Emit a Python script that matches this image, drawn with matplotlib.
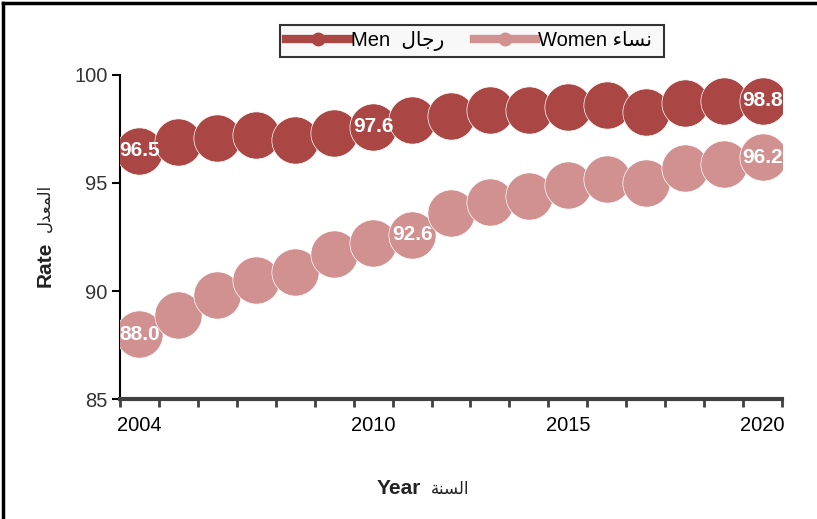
import matplotlib
matplotlib.use("Agg")
import matplotlib.pyplot as plt
from matplotlib.lines import Line2D

years = list(range(2004, 2021))
men = [96.5, 96.9, 97.1, 97.2, 97.0, 97.3, 97.6, 97.9, 98.1, 98.4,
       98.4, 98.5, 98.6, 98.3, 98.7, 98.8, 98.8]
women = [88.0, 88.9, 89.8, 90.5, 90.9, 91.7, 92.2, 92.6, 93.6, 94.1,
         94.4, 94.9, 95.2, 95.0, 95.7, 95.9, 96.2]
men_labels = [0, 6, 16]
women_labels = [0, 7, 16]
shown_years = [2004, 2010, 2015, 2020]
y_ticks = [85, 90, 95, 100]

# Arabic words written in visual order with presentation forms
ar_men = "\uFEDD\uFE8E\uFE9F\uFEAD"
ar_women = "\uFE80\uFE8E\uFEB4\uFEE7"
ar_rate = "\uFEDD\uFEAA\uFECC\uFEE4\uFEDF\uFE8D"
ar_year = "\uFE94\uFEE8\uFEB4\uFEDF\uFE8D"

MEN_C = "#aa4744"
WOMEN_C = "#d29191"
FONTS = ["Liberation Sans", "DejaVu Sans"]

plt.rcParams["font.family"] = FONTS


def main():
    fig = plt.figure(figsize=(8.17, 5.19), dpi=100)
    ax = fig.add_axes([0.1469, 0.2312, 0.8103, 0.6243])

    x = list(range(len(years)))
    for vals, color, idxs in ((men, MEN_C, men_labels),
                              (women, WOMEN_C, women_labels)):
        ax.plot(x, vals, color=color, lw=5, marker="o", markersize=34,
                markerfacecolor=color, markeredgecolor="white",
                markeredgewidth=0.5, zorder=3)
        for i in idxs:
            ax.text(x[i], vals[i], f"{vals[i]:.1f}", color="white",
                    fontsize=15, fontweight="bold", ha="center",
                    va="center", zorder=4)

    ax.set_xlim(-0.5, len(years) - 0.5)
    ax.set_ylim(85, 100)
    ax.set_yticks(y_ticks)
    ax.set_yticklabels([str(v) for v in y_ticks], fontsize=14.5,
                       color="#333333")
    ax.set_xticks([years.index(y) for y in shown_years])
    ax.set_xticklabels([str(y) for y in shown_years], fontsize=14.5)
    ax.set_xticks([i - 0.5 for i in range(len(years) + 1)], minor=True)
    ax.tick_params(axis="x", which="major", length=0, pad=12)
    ax.tick_params(axis="x", which="minor", length=6, width=2,
                   color="#404040", direction="out")
    ax.tick_params(axis="y", length=6, width=1.5, color="black", pad=3)

    for s in ("top", "right"):
        ax.spines[s].set_visible(False)
    ax.spines["left"].set_linewidth(1.5)
    ax.spines["bottom"].set_linewidth(3)
    ax.spines["bottom"].set_color("#404040")

    # axis titles: bold English part, lighter Arabic part
    fig.text(45 / 817, 1 - 264 / 519, "Rate", rotation=90, fontsize=15,
             fontweight="bold", color="#222222", ha="center", va="center")
    fig.text(45 / 817, 1 - 208 / 519, ar_rate, rotation=90, fontsize=12,
             color="#222222", ha="center", va="center")
    fig.text(399 / 817, 1 - 488 / 519, "Year", fontsize=15,
             fontweight="bold", color="#222222", ha="center", va="center")
    fig.text(450 / 817, 1 - 489 / 519, ar_year, fontsize=12,
             color="#222222", ha="center", va="center")

    handles = [
        Line2D([], [], color=MEN_C, lw=6, marker="o", markersize=9),
        Line2D([], [], color=WOMEN_C, lw=6, marker="o", markersize=9),
    ]
    leg = fig.legend(handles, [f"Men  {ar_men}  ", f"Women {ar_women} "],
                     loc="center", bbox_to_anchor=(472 / 817, 1 - 41 / 519),
                     ncol=2, fontsize=14.5, frameon=True, fancybox=False,
                     handlelength=3.1, handletextpad=0.1, columnspacing=0.9,
                     borderpad=0.3)
    leg.get_frame().set_edgecolor("black")
    leg.get_frame().set_linewidth(1.5)
    leg.get_frame().set_facecolor("#f7f7f7")

    # outer frame lines (top and left)
    fig.add_artist(Line2D([0.004, 1.0], [0.994, 0.994], color="black",
                          lw=2.5, transform=fig.transFigure))
    fig.add_artist(Line2D([0.004, 0.004], [0.0, 0.994], color="black",
                          lw=2.5, transform=fig.transFigure))

    fig.savefig("out.png", dpi=100)


if __name__ == "__main__":
    main()
